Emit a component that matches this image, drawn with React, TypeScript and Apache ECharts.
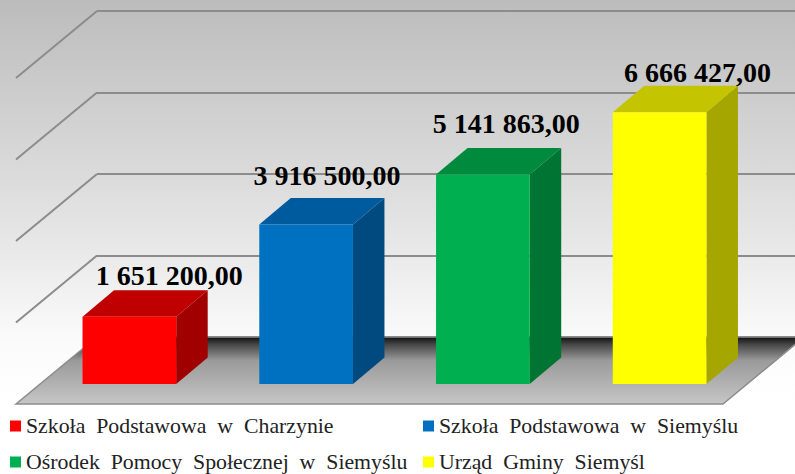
import React, { useEffect, useRef } from "react";
import * as echarts from "echarts";

const categories = [
  "Szkoła Podstawowa w Charzynie",
  "Szkoła Podstawowa w Siemyślu",
  "Ośrodek Pomocy Społecznej w Siemyślu",
  "Urząd Gminy Siemyśl",
];
const values = [1651200, 3916500, 5141863, 6666427];
const valueLabels = ["1 651 200,00", "3 916 500,00", "5 141 863,00", "6 666 427,00"];
const yTicks = [0, 2000000, 4000000, 6000000, 8000000];
const frontColors = ["#FF0000", "#0070C0", "#00B050", "#FFFF00"];
const topColors = ["#C00000", "#005A9E", "#008A3E", "#C4C400"];
const sideColors = ["#A00000", "#004A80", "#007533", "#A6A600"];

const W = 795;
const H = 474;
// the plot runs past the photographed right edge, the wrapper crops it
const CHART_W = 820;
const CHART_H = 500;
// projection of the chart's depth, from the back wall towards the viewer
const FLOOR_DX = 81;
const FLOOR_DY = 67;
const BAR_FRONT_DX = 56;
const BAR_FRONT_DY = 47;
const BAR_DEPTH_X = 31.5;
const BAR_DEPTH_Y = 26.5;
const LABEL_LIFT = [1, 8, 10, -1];
const LABEL_SHIFT = [24, 5, 7.5, 22];

const LINE = "#8C8C8C";

function renderWall(_params: any, api: any) {
  const v = api.value(0);
  const size = api.size([1, 0]);
  const [x0, y] = api.coord([0, v]);
  const left = x0 - size[0] / 2;
  const right = left + size[0] * categories.length;
  if (v === 0) {
    return {
      type: "polygon",
      shape: {
        points: [
          [left, y],
          [right, y],
          [right - FLOOR_DX, y + FLOOR_DY],
          [left - FLOOR_DX, y + FLOOR_DY],
        ],
      },
      style: {
        fill: new echarts.graphic.LinearGradient(0, 0, 0, 1, [
          { offset: 0, color: "#111111" },
          { offset: 0.12, color: "#4a4a4a" },
          { offset: 0.35, color: "#9a9a9a" },
          { offset: 1, color: "#c6c6c6" },
        ]),
        stroke: LINE,
        lineWidth: 1.5,
      },
    };
  }
  return {
    type: "line",
    shape: { x1: left, y1: y, x2: left - FLOOR_DX, y2: y + FLOOR_DY },
    style: { stroke: LINE, lineWidth: 2 },
  };
}

function renderBar(params: any, api: any) {
  const i = api.value(0);
  const v = api.value(1);
  const w = api.size([1, 0])[0] * 0.53;
  const [cx, yv] = api.coord([i, v]);
  const [, y0] = api.coord([i, 0]);
  const x1 = cx - BAR_FRONT_DX - w / 2;
  const x2 = x1 + w;
  const top = yv + BAR_FRONT_DY;
  const base = y0 + BAR_FRONT_DY;
  const dx = BAR_DEPTH_X;
  const dy = BAR_DEPTH_Y;
  return {
    type: "group",
    children: [
      {
        type: "polygon",
        shape: { points: [[x2, top], [x2 + dx, top - dy], [x2 + dx, base - dy], [x2, base]] },
        style: { fill: sideColors[i] },
      },
      {
        type: "polygon",
        shape: { points: [[x1, top], [x1 + dx, top - dy], [x2 + dx, top - dy], [x2, top]] },
        style: { fill: topColors[i] },
      },
      {
        type: "rect",
        shape: { x: x1, y: top, width: w, height: base - top },
        style: { fill: frontColors[i] },
      },
      {
        type: "text",
        z2: 10,
        style: {
          text: valueLabels[i],
          x: (x1 + x2) / 2 + dx / 2 + LABEL_SHIFT[i],
          y: top - dy - LABEL_LIFT[i],
          align: "center",
          verticalAlign: "bottom",
          fill: "#000000",
          font: 'bold 28px "Liberation Serif"',
        },
      },
    ],
  };
}

const legendCommon = {
  orient: "vertical",
  icon: "rect",
  itemWidth: 11,
  itemHeight: 11,
  itemGap: 14,
  top: 415,
  padding: 0,
  textStyle: { fontFamily: "Liberation Serif", fontSize: 21.8, color: "#222222", lineHeight: 20 },
  formatter: (name: string) => name.replace(/ /g, "  "),
};

export default function App() {
  const ref = useRef<HTMLDivElement>(null);
  useEffect(() => {
    const chart = echarts.init(ref.current!, undefined, { renderer: "svg" });
    chart.setOption({
      animation: false,
      graphic: [
        {
          type: "rect",
          z: -10,
          silent: true,
          shape: { x: 0, y: 0, width: CHART_W, height: H },
          style: {
            fill: new echarts.graphic.LinearGradient(0, 0, 0, 1, [
              { offset: 0, color: "#bcbcbc" },
              { offset: 0.5, color: "#e6e6e6" },
              { offset: 0.72, color: "#fbfbfb" },
              { offset: 0.85, color: "#ffffff" },
              { offset: 1, color: "#ffffff" },
            ]),
          },
        },
      ],
      grid: { left: 97, top: 11, width: 707, height: 326 },
      xAxis: { type: "category", data: categories, show: false },
      yAxis: {
        type: "value",
        min: 0,
        max: 8000000,
        interval: 2000000,
        axisLabel: { show: false },
        axisLine: { show: false },
        axisTick: { show: false },
        splitLine: { show: true, lineStyle: { color: LINE, width: 2 } },
      },
      legend: [
        { ...legendCommon, left: 10, data: [categories[0], categories[2]] },
        { ...legendCommon, left: 423, data: [categories[1], categories[3]] },
      ],
      series: [
        {
          type: "custom",
          name: "walls",
          z: 1,
          silent: true,
          renderItem: renderWall,
          encode: { y: 0 },
          data: yTicks.map((t) => [t]),
        },
        ...categories.map((name, i) => ({
          type: "custom",
          name,
          z: 2,
          renderItem: renderBar,
          itemStyle: { color: frontColors[i] },
          encode: { x: 0, y: 1 },
          data: [[i, values[i]]],
        })),
      ],
    });
    return () => chart.dispose();
  }, []);
  return (
    <div style={{ position: "absolute", left: 0, top: 0, width: W, height: H, overflow: "hidden" }}>
      <div ref={ref} style={{ width: CHART_W, height: CHART_H }} />
    </div>
  );
}
